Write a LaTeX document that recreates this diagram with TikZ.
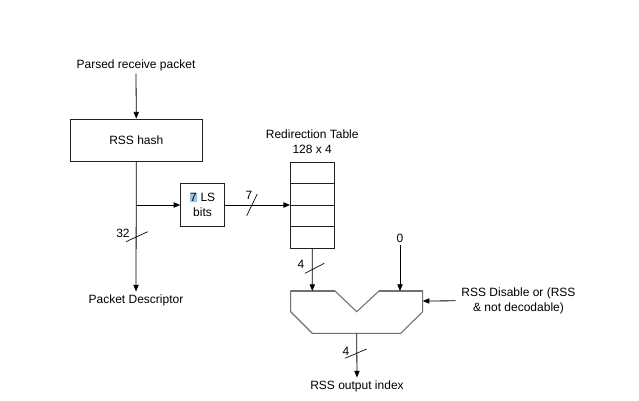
\documentclass[tikz,border=0pt]{standalone}
\usepackage{fontspec}
\setmainfont{Liberation Sans}
\usepackage{xcolor}
\usetikzlibrary{arrows.meta, positioning}
\definecolor{selblue}{HTML}{9DC3E6}
\definecolor{muxgray}{HTML}{707070}
\definecolor{linegray}{HTML}{202020}
\tikzset{
  font=\fontsize{9}{11.25}\selectfont,   % Arial-like text
  block/.style   = {rectangle, draw=linegray, line width=0.6pt, align=center},
  label/.style   = {inner sep=2pt, align=center},
  row/.style     = {rectangle, draw=linegray, line width=0.6pt, minimum width=33.2pt,
                    minimum height=16.2pt, inner sep=0pt, outer sep=0pt},
  arrow/.style   = {-{Triangle[length=5pt, width=4pt]}, line width=0.6pt},
  slash/.style   = {line width=0.5pt}
}

\begin{document}
\begin{tikzpicture}[x=0.75pt, y=-0.75pt]
  \useasboundingbox (0,0) rectangle (639,400);
  % hash and side path
  \node[label] (parsed) at (136,65) {Parsed receive packet};
  \node[block, minimum width=99.5pt, minimum height=31.5pt] (hash) at (136.3,140) {RSS hash};
  \node[block, minimum width=32.7pt, minimum height=32pt] (bits) at (202.5,205)
    {{\fboxsep=0.3pt\colorbox{selblue}{7}} LS\\bits};
  \node[label] (desc) at (136,300) {Packet Descriptor};
  \coordinate (branch) at (hash.south |- bits.west);
  \draw[arrow] (parsed.south) -- (hash.north);
  \draw[arrow] (hash.south) -- (desc.north);
  \draw[arrow] (branch) -- (bits.west);
  \draw[slash] (126,241.7) -- (147.7,231.7);
  \node[label] (w32) at (123,233) {32};
  % redirection table
  \node[row] (row1) at (312.2,172.8) {};
  \node[row, below=0pt of row1] (row2) {};
  \node[row, below=0pt of row2] (row3) {};
  \node[row, below=0pt of row3] (row4) {};
  \node[label, above=4pt of row1] (title) {Redirection Table\\128 x 4};
  \draw[arrow] (bits.east) -- (bits.east -| row2.south west);
  \draw[slash] (246.7,215.7) -- (257.3,194);
  \node[label] (w7) at (249,195) {7};
  % selector
  \coordinate (muxa) at (312.3,291);
  \coordinate (muxb) at (400,291);
  \coordinate (muxc) at (422.7,301);
  \coordinate (muxout) at (356.7,333.3);
  \draw[muxgray, line width=0.8pt, line join=miter]
    (290.7,291) -- (335,291) -- (356.7,311.7) -- (379,291) -- (422.7,291)
    -- (422.7,311.7) -- (400.7,333.3) -- (312.3,333.3) -- (290.7,311.7) -- cycle;
  \draw[muxgray, line width=1.5pt] (290.7,291) -- (335,291) (379,291) -- (422.7,291);
  \node[label] (zero) at (400,238) {0};
  \node[label] (ctrl) at (518.5,300.8) {RSS Disable or (RSS\\\& not decodable)};
  \node[label] (index) at (357,386) {RSS output index};
  \draw[arrow] (row4.south) -- (muxa);
  \draw[arrow] (zero.south) -- (muxb);
  \draw[arrow] (ctrl.west) ++(-3,0) -- (muxc);
  \draw[arrow] (muxout) -- (index.north);
  \draw[slash] (305,273.3) -- (324.3,263.3);
  \node[label] (w4a) at (301,264.5) {4};
  \draw[slash] (345,358.3) -- (366.7,349);
  \node[label] (w4b) at (346,351) {4};
\end{tikzpicture}
\end{document}
